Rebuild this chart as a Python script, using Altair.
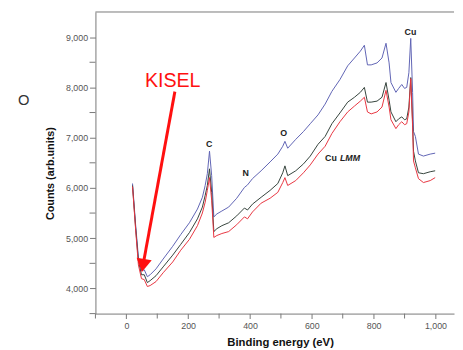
import altair as alt
import pandas as pd

# Binding energy (eV) sample positions shared by the three spectra
energy = [20, 30, 39, 49, 58, 68, 77, 96, 119, 150, 176, 204, 230, 246, 255, 262, 269, 276, 283,
          293, 309, 331, 357, 382, 392, 408, 436, 465, 490, 506, 513, 522, 548, 573, 595, 620,
          643, 665, 691, 716, 738, 757, 770, 780, 792, 811, 827, 840, 850, 856, 872, 881, 891,
          900, 907, 914, 920, 926, 929, 935, 945, 961, 983, 999]

blue = [6088, 5268, 4624, 4351, 4371, 4234, 4273, 4390, 4585, 4839, 5073, 5307, 5580, 5814, 6049,
        6283, 6731, 6244, 5424, 5483, 5541, 5619, 5795, 6010, 6060, 6185, 6341, 6517, 6673, 6829,
        6927, 6790, 6966, 7122, 7278, 7453, 7668, 7922, 8156, 8429, 8585, 8721, 8838, 8448, 8448,
        8487, 8585, 8878, 8487, 8097, 7902, 7980, 8058, 7980, 8000, 8292, 8975, 7902, 7122, 7024,
        6673, 6634, 6673, 6692]

black = [6049, 5210, 4546, 4273, 4273, 4117, 4156, 4254, 4429, 4663, 4878, 5112, 5385, 5619, 5853,
         6049, 6380, 5912, 5132, 5190, 5249, 5307, 5444, 5600, 5561, 5678, 5814, 5951, 6088, 6302,
         6439, 6244, 6341, 6478, 6634, 6868, 7024, 7278, 7492, 7707, 7804, 7902, 8000, 7707, 7707,
         7727, 7804, 8097, 7746, 7512, 7317, 7375, 7414, 7356, 7375, 7609, 8195, 7317, 6731, 6537,
         6302, 6283, 6322, 6341]

red = [6029, 5171, 4468, 4195, 4176, 4039, 4058, 4137, 4312, 4527, 4761, 4976, 5249, 5502, 5717,
       5951, 6205, 5756, 5015, 5054, 5093, 5132, 5268, 5424, 5385, 5522, 5697, 5795, 5912, 6107,
       6205, 6049, 6146, 6302, 6458, 6673, 6829, 7083, 7317, 7512, 7629, 7727, 7804, 7512, 7473,
       7512, 7609, 7941, 7609, 7356, 7180, 7258, 7317, 7258, 7278, 7512, 8175, 7219, 6537, 6400,
       6185, 6107, 6146, 6205]

series_names = ["s1", "s2", "s3"]
series_colors = ["#5f63b4", "#33413a", "#e8343f"]

# peak labels (text, energy, counts)
peak_text = ["C", "N", "O", "Cu"]
peak_x = [268, 386, 509, 919]
peak_y = [6881, 6294, 7086, 9108]

x_major = [0, 200, 400, 600, 800, 1000]
x_minor = [-100, 100, 300, 500, 700, 900]
y_major = [4000, 5000, 6000, 7000, 8000, 9000]
y_minor = [3500, 4500, 5500, 6500, 7500, 8500]

W, H = 365, 307

rows = []
for name, vals in zip(series_names, [blue, black, red]):
    for e, v in zip(energy, vals):
        rows.append({"energy": e, "counts": v, "series": name})
df = pd.DataFrame(rows)

xs = alt.Scale(domain=[-100, 1060], nice=False, zero=False)
ys = alt.Scale(domain=[3500, 9500], nice=False, zero=False)

x_axis = alt.Axis(values=x_major, labelOverlap=False, labelFlush=False,
                  labelExpr="datum.value >= 1000 ? '1,000' : '' + datum.value",
                  title="Binding energy (eV)", titleFontSize=11.5, titleFont="Liberation Sans",
                  titleFontWeight="bold", titleColor="#111", titleX=188, titleY=29,
                  titleBaseline="middle", labelFontSize=9, labelColor="#555",
                  labelFont="Liberation Sans", labelPadding=3, tickSize=5, tickColor="#777",
                  domainColor="#777", grid=False)
y_axis = alt.Axis(values=y_major, labelOverlap=False, labelFlush=False,
                  labelExpr="'' + (datum.value / 1000) + ',000'",
                  title="Counts (arb.units)", titleFontSize=11, titleFont="Liberation Sans",
                  titleFontWeight="bold", titleColor="#111", titleX=-46, titleY=164,
                  titleBaseline="middle", titleAngle=-90, labelFontSize=9, labelColor="#555",
                  labelFont="Liberation Sans", labelPadding=2, tickSize=6, tickColor="#777",
                  domainColor="#777", grid=False)

lines = alt.Chart(df).mark_line(strokeWidth=1, interpolate="linear").encode(
    x=alt.X("energy:Q", scale=xs, axis=x_axis),
    y=alt.Y("counts:Q", scale=ys, axis=y_axis),
    color=alt.Color("series:N", scale=alt.Scale(domain=series_names, range=series_colors),
                    legend=None),
    order=alt.Order("energy:Q"),
)

top_rule = alt.Chart(pd.DataFrame({"y": [9500]})).mark_rule(color="#777", strokeWidth=1).encode(
    y=alt.Y("y:Q", scale=ys)
)

x_minor_ticks = alt.Chart(pd.DataFrame({"v": x_minor})).mark_rule(color="#777", strokeWidth=1).encode(
    x=alt.X("v:Q", scale=xs), y=alt.value(H), y2=alt.value(H + 5)
)
y_minor_ticks = alt.Chart(pd.DataFrame({"v": y_minor})).mark_rule(color="#777", strokeWidth=1).encode(
    y=alt.Y("v:Q", scale=ys), x=alt.value(-6), x2=alt.value(0)
)

def txt(frame, **kw):
    return alt.Chart(frame).mark_text(**kw).encode(
        x=alt.X("x:Q", scale=xs), y=alt.Y("y:Q", scale=ys), text="t:N")

peaks = txt(pd.DataFrame({"t": peak_text, "x": peak_x, "y": peak_y}),
            font="Liberation Sans", fontSize=9, fontWeight="bold", color="#222")
cu1 = txt(pd.DataFrame({"t": ["Cu"], "x": [643], "y": [6587]}),
          font="Liberation Sans", fontSize=9, fontWeight="bold", color="#222", align="left")
cu2 = txt(pd.DataFrame({"t": ["LMM"], "x": [691], "y": [6587]}),
          font="Liberation Sans", fontSize=9, fontWeight="bold", fontStyle="italic",
          color="#222", align="left")
kisel = txt(pd.DataFrame({"t": ["KISEL"], "x": [150], "y": [8131]}),
            font="Liberation Sans", fontSize=20, color="#ff1010")

arrow_line = alt.Chart(pd.DataFrame({"x": [157], "y": [7916], "x2": [55], "y2": [4500]})).mark_rule(
    color="#ff1010", strokeWidth=3
).encode(x=alt.X("x:Q", scale=xs), y=alt.Y("y:Q", scale=ys), x2="x2:Q", y2="y2:Q")

arrow_head = alt.Chart(pd.DataFrame({"x": [54], "y": [4457]})).mark_point(
    shape="triangle-down", filled=True, color="#ff1010", size=240, angle=10, opacity=1
).encode(x=alt.X("x:Q", scale=xs), y=alt.Y("y:Q", scale=ys))

panel = alt.Chart(pd.DataFrame({"t": ["O"]})).mark_text(
    font="Liberation Sans", fontSize=15, color="#333"
).encode(x=alt.value(-73), y=alt.value(90), text="t:N")

chart = alt.layer(
    lines, top_rule, x_minor_ticks, y_minor_ticks, peaks, cu1, cu2, kisel, arrow_line,
    arrow_head, panel
).properties(
    width=W, height=H, background="white",
    padding={"left": 10, "top": 0, "right": 0, "bottom": 0}
).configure_view(stroke=None)

chart.save("out.html", embed_options={"renderer": "svg", "actions": False})
